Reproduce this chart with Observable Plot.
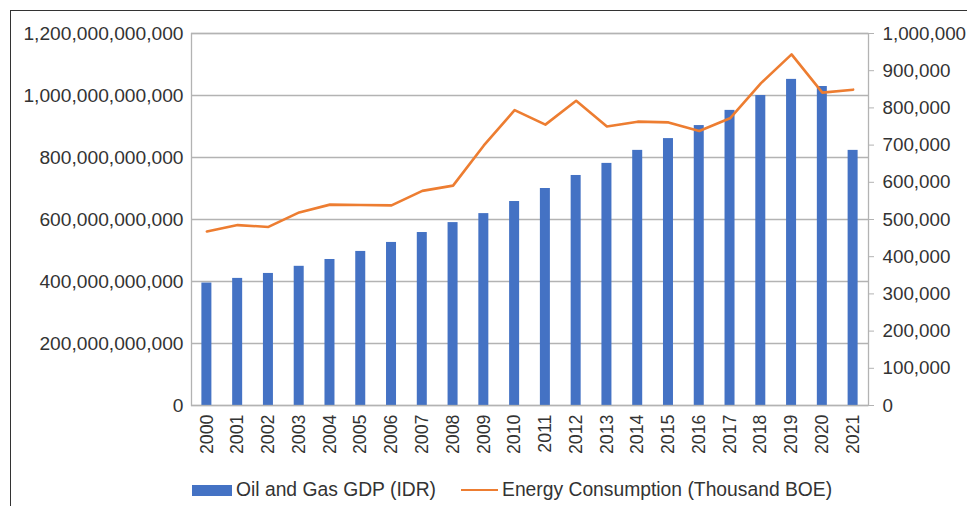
<!DOCTYPE html>
<html>
<head>
<meta charset="utf-8">
<script src="https://cdn.jsdelivr.net/npm/d3@7"></script>
<script src="https://cdn.jsdelivr.net/npm/@observablehq/plot@0.6"></script>
<style>
  html, body { margin: 0; padding: 0; background: #fff; overflow: hidden; }
  body { width: 967px; height: 506px; position: relative; font-family: "Liberation Sans", Arial, sans-serif; }
  #frame { position: absolute; left: 10px; top: 10px; width: 970px; height: 510px; border-left: 1.5px solid #333; border-top: 1.5px solid #333; pointer-events: none; }
  #chart { position: absolute; left: 0; top: 0; }
  #legend { position: absolute; left: 0; top: 471px; width: 967px; height: 38px; display: flex; align-items: center; font-size: 19.3px; color: #333; }
  .sw-bar { width: 40px; height: 11px; background: #4472C4; margin-left: 192px; margin-right: 4px; }
  .sw-line { width: 37px; height: 2.5px; background: #ED7D31; margin-left: 25px; margin-right: 4px; }
</style>
</head>
<body>
<div id="chart"></div>
<div id="legend">
  <div class="sw-bar"></div><span>Oil and Gas GDP (IDR)</span>
  <div class="sw-line"></div><span>Energy Consumption (Thousand BOE)</span>
</div>
<div id="frame"></div>
<script>
const years = ["2000","2001","2002","2003","2004","2005","2006","2007","2008","2009","2010","2011","2012","2013","2014","2015","2016","2017","2018","2019","2020","2021"];
const gdpIDR = [395e9, 410e9, 426e9, 449e9, 471e9, 497e9, 526e9, 558e9, 590e9, 619e9, 658e9, 700e9, 742e9, 781e9, 823e9, 861e9, 903e9, 952e9, 1000e9, 1052e9, 1029e9, 823e9];
const energyKBOE = [468000, 485000, 480000, 519000, 540000, 539000, 538000, 577000, 591000, 699000, 794000, 755000, 819000, 750000, 763000, 761000, 738000, 772000, 866000, 944000, 841000, 849000];
const leftTicks = [0, 200e9, 400e9, 600e9, 800e9, 1000e9, 1200e9];
const rightTicks = [0, 100000, 200000, 300000, 400000, 500000, 600000, 700000, 800000, 900000, 1000000];

const leftMax = 1200e9, rightMax = 1000000;
const k = leftMax / rightMax;

const bars = years.map((y, i) => ({year: y, gdp: gdpIDR[i]}));
const line = years.map((y, i) => ({year: y, energy: energyKBOE[i]}));
const fmt = d3.format(",.0f");

const chart = Plot.plot({
  width: 967,
  height: 470,
  marginLeft: 191,
  marginRight: 99,
  marginTop: 33,
  marginBottom: 65,
  style: {fontFamily: "'Liberation Sans', Arial, sans-serif", color: "#333", background: "transparent"},
  x: {type: "band", domain: years, paddingInner: 0.675, paddingOuter: 0.3375, round: false},
  y: {domain: [0, leftMax]},
  marks: [
    Plot.gridY(leftTicks, {stroke: "#b3b3b3", strokeOpacity: 1, strokeWidth: 1.3}),
    Plot.barY(bars, {x: "year", y: "gdp", fill: "#4472C4"}),
    Plot.line(line, {x: "year", y: d => d.energy * k, stroke: "#ED7D31", strokeWidth: 2.6, strokeLinejoin: "round"}),
    Plot.frame({stroke: "#b3b3b3", strokeWidth: 1.3}),
    Plot.axisY(leftTicks, {anchor: "left", tickSize: 0, tickPadding: 8, tickFormat: fmt, fontSize: 19.2, label: null}),
    Plot.axisY(rightTicks.map(v => v * k), {anchor: "right", tickSize: 5, tickPadding: 9, stroke: "#b3b3b3", tickFormat: d => fmt(d / k), fontSize: 18.8, label: null}),
    Plot.axisX({tickRotate: -90, tickSize: 0, tickPadding: 9, fontSize: 17.8, label: null})
  ]
});
chart.querySelectorAll("text").forEach(t => t.setAttribute("fill", "#333"));
document.getElementById("chart").appendChild(chart);
</script>
</body>
</html>
